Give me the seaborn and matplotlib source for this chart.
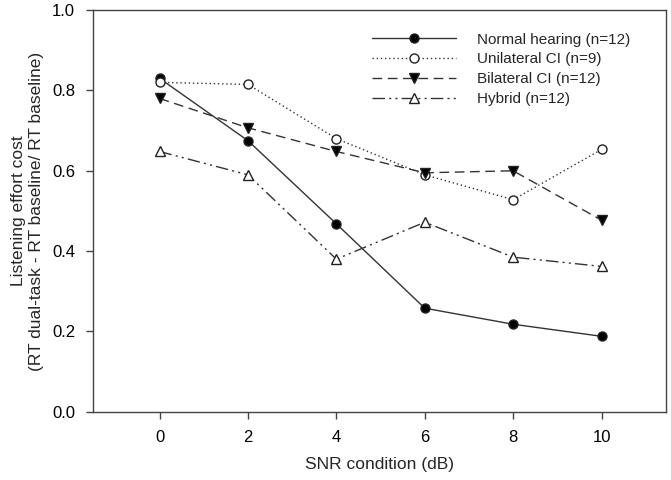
import matplotlib
matplotlib.use("Agg")
import matplotlib.pyplot as plt
import seaborn as sns
import pandas as pd

snr = [0, 2, 4, 6, 8, 10]
normal = [0.830, 0.675, 0.468, 0.258, 0.218, 0.188]
unilateral = [0.820, 0.815, 0.680, 0.590, 0.528, 0.653]
bilateral = [0.780, 0.707, 0.648, 0.595, 0.600, 0.477]
hybrid = [0.648, 0.590, 0.380, 0.472, 0.385, 0.362]
labels = ["Normal hearing (n=12)", "Unilateral CI (n=9)",
          "Bilateral CI (n=12)", "Hybrid (n=12)"]

sns.set_theme(style="ticks")
plt.rcParams["font.family"] = ["Liberation Sans", "DejaVu Sans"]

fig = plt.figure(figsize=(6.71, 4.8), dpi=100)
ax = fig.add_axes([0.139, 0.142, 0.853, 0.837])

styles = [
    dict(linestyle="-", marker="o", mfc="black"),
    dict(linestyle=(0, (1, 2)), marker="o", mfc="white"),
    dict(linestyle=(0, (7, 4)), marker="v", mfc="black"),
    dict(linestyle=(0, (9, 3, 1.5, 3, 1.5, 3)), marker="^", mfc="white"),
]
for vals, lab, st in zip([normal, unilateral, bilateral, hybrid], labels, styles):
    df = pd.DataFrame({"snr": snr, "cost": vals})
    sns.lineplot(data=df, x="snr", y="cost", ax=ax, label=lab, color="#333333",
                 linestyle=st["linestyle"], marker=st["marker"], lw=1.0,
                 markerfacecolor=st["mfc"], markeredgecolor="#222222",
                 markersize=6.5, markeredgewidth=1.0)

ax.set_xlim(-1.5, 11.45)
ax.set_ylim(0, 1.0)
ax.set_xticks(snr)
ax.set_yticks([0.0, 0.2, 0.4, 0.6, 0.8, 1.0])
ax.set_yticklabels(["0.0", "0.2", "0.4", "0.6", "0.8", "1.0"])
for s in ax.spines.values():
    s.set_color("#444444")
    s.set_linewidth(1.0)
ax.tick_params(direction="out", length=5, width=1, colors="#444444",
               labelcolor="black", labelsize=12)
ax.tick_params(axis="x", pad=8)
ax.tick_params(axis="y", pad=8)
ax.set_xlabel("SNR condition (dB)", fontsize=12.5, labelpad=9)
ax.set_ylabel("Listening effort cost\n(RT dual-task - RT baseline/ RT baseline)",
              fontsize=12.5, labelpad=6)

leg = ax.legend(loc="upper left", bbox_to_anchor=(0.463, 0.978), frameon=False,
                fontsize=11, handlelength=5.5, handletextpad=1.4,
                labelspacing=0.38)

fig.savefig("out.png", dpi=100)
